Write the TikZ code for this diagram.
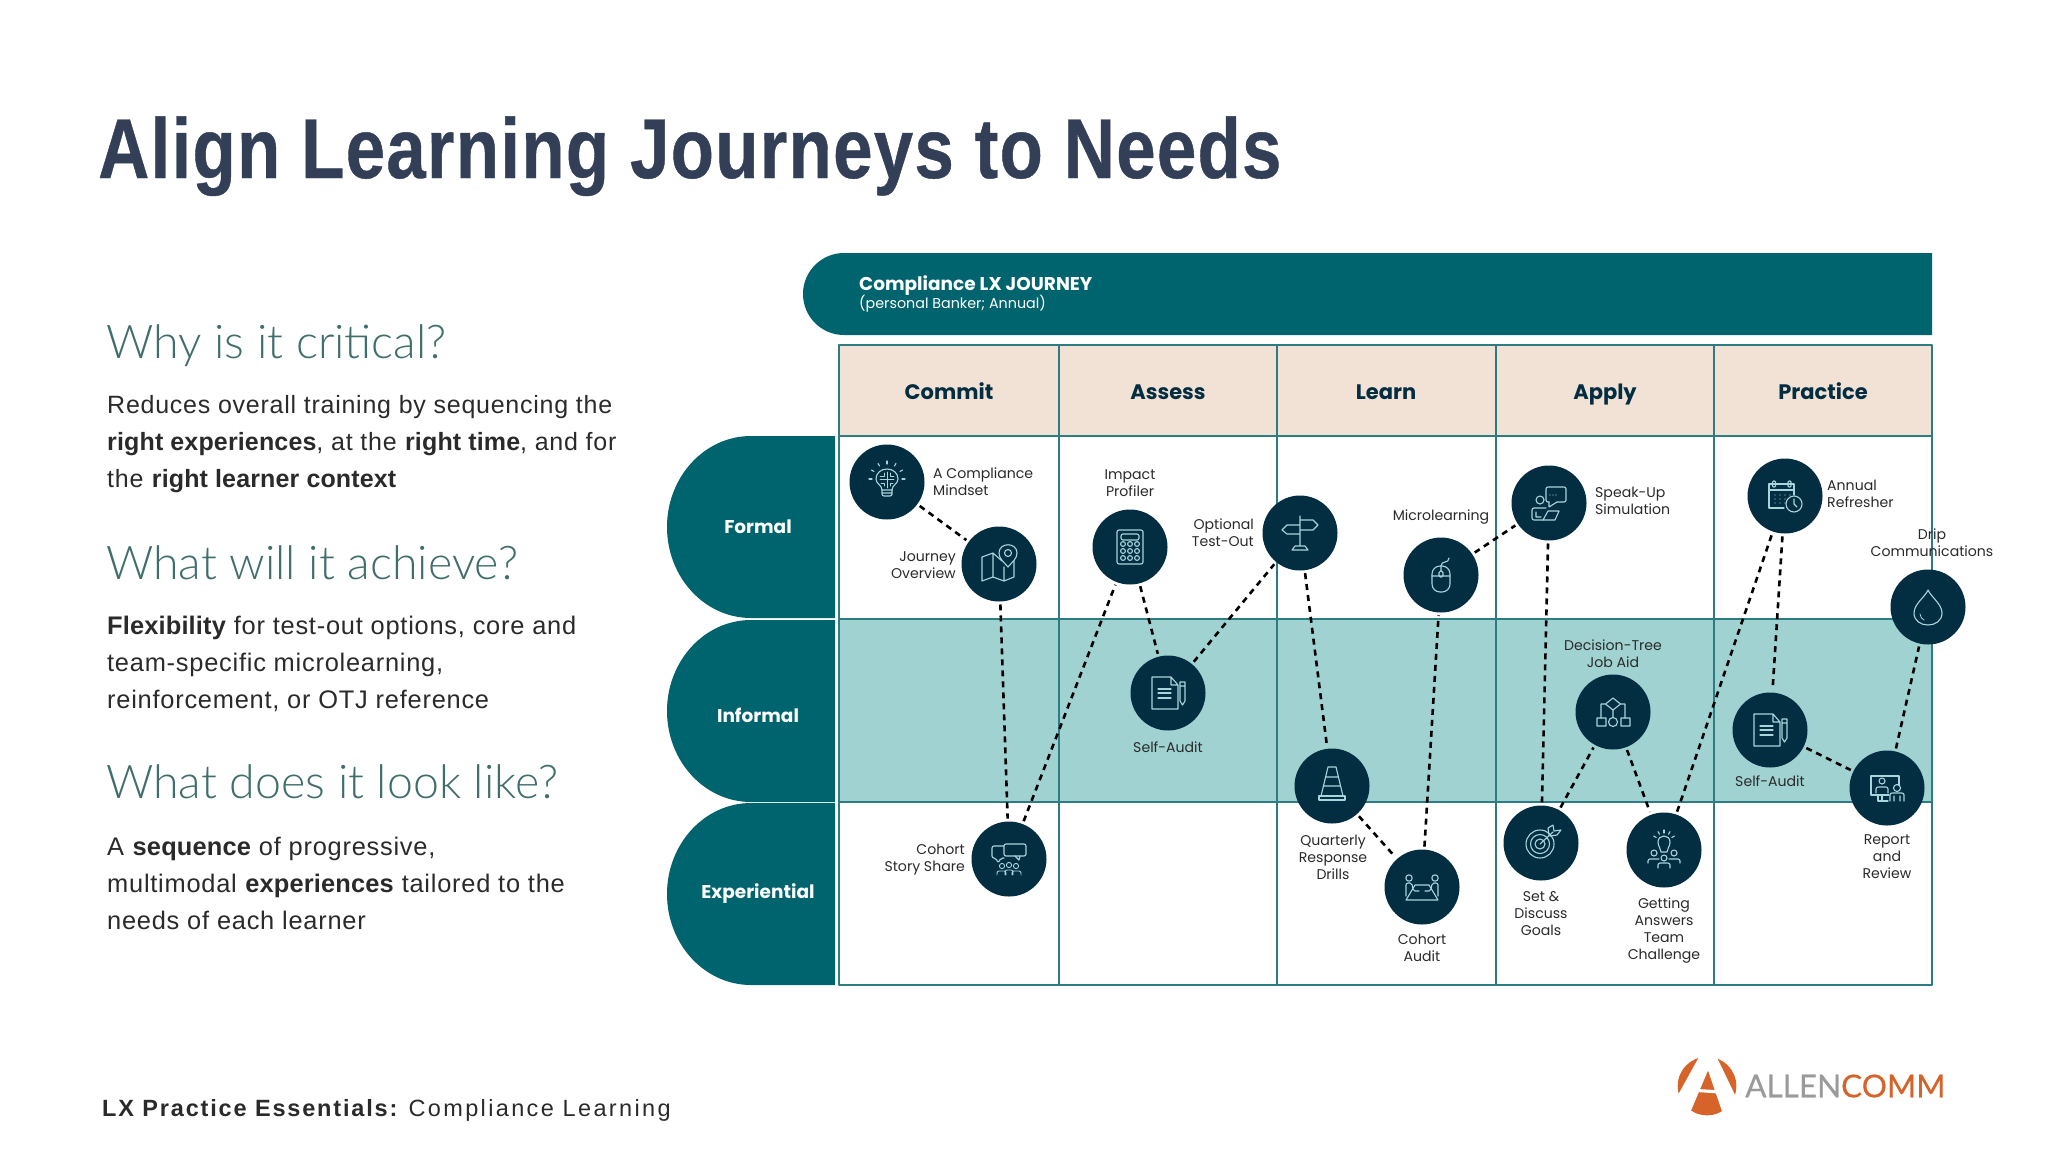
\documentclass[tikz,border=0pt]{standalone}
\usepackage{fontspec}
\usetikzlibrary{arrows.meta,calc}
\setmainfont{Liberation Sans}
\newfontfamily\titlefont[FakeStretch=0.833,LetterSpace=1.5,FakeBold=0.5]{Liberation Sans}
\newfontfamily\headfont{Lato Light}
\newfontfamily\bodyfont[LetterSpace=3,BoldFeatures={LetterSpace=0.6}]{Liberation Sans}
\newfontfamily\footfont[LetterSpace=10,BoldFeatures={LetterSpace=7.8}]{Liberation Sans}
\newfontfamily\labfont{Poppins}
\newfontfamily\logofont[FakeBold=0.4]{Lato}
\definecolor{tealc}{HTML}{00646E}
\definecolor{navyc}{HTML}{032E42}
\definecolor{sandc}{HTML}{F2E2D5}
\definecolor{mintc}{HTML}{A1D2D2}
\definecolor{gridc}{HTML}{2E7C83}
\definecolor{iconc}{HTML}{A8D5DC}
\definecolor{slatec}{HTML}{333F57}
\definecolor{headc}{HTML}{3F6E6B}
\definecolor{inkc}{HTML}{2A2A2A}
\definecolor{rustc}{HTML}{D5632A}
\definecolor{greyc}{HTML}{9A9A9A}
\tikzset{
  stop/.style={circle,fill=navyc,minimum size=75pt,inner sep=0pt,outer sep=3pt},
  lab/.style={font=\labfont\fontsize{14.1}{17}\selectfont,align=center,text=inkc,inner sep=0pt},
  labl/.style={lab,align=left,anchor=west},
  labr/.style={lab,align=right,anchor=east},
  colhead/.style={font=\labfont\bfseries\fontsize{21}{24}\selectfont,text=navyc,inner sep=0pt,text height=16pt,text depth=5pt},
  rowhead/.style={font=\labfont\bfseries\fontsize{18.5}{22}\selectfont,text=white,inner sep=0pt,text height=14pt,text depth=4pt},
  quest/.style={font=\headfont\fontsize{46.5}{50}\selectfont,text=headc,anchor=base west,inner sep=0pt},
  para/.style={font=\bodyfont\fontsize{25}{37}\selectfont,text=inkc,align=left,anchor=west,inner sep=0pt},
  parb/.style={para,font=\bodyfont\fontsize{25.4}{37}\selectfont},
  trail/.style={line width=2.6pt,dash pattern=on 6pt off 5pt,draw=black},
  ico/.style={draw=iconc,line width=1.1pt,line join=round,line cap=round},
  docicon/.pic={
    \draw[ico] (-16,-16) -- (3,-16) -- (10,-8) -- (10,16) -- (-16,16) -- cycle (3,-16) -- (3,-8) -- (10,-8);
    \foreach \y in {-4,0,5} {\draw[ico] (-10,\y) -- (3,\y);}
    \draw[ico] (12,-11) -- (17,-11) -- (17,8) -- (14.5,12) -- (12,8) -- cycle (12,-7) -- (17,-7);
  },
}
\begin{document}
\begin{tikzpicture}[x=1pt,y=-1pt,line join=round]
\useasboundingbox (0,0) rectangle (2048,1152);
% --- title and left column
\node[font=\titlefont\bfseries\fontsize{85}{90}\selectfont,text=slatec,anchor=base west,inner sep=0pt] (title) at (98,178) {Align Learning Journeys to Needs};
\node[quest] (q1) at (106,358) {Why is it critical?};
\node[para] (p1) at (107,444) {Reduces overall training by sequencing the\\\textbf{right experiences}, at the \textbf{right time}, and for\\the \textbf{right learner context}};
\node[quest] (q2) at (106,579) {What will it achieve?};
\node[parb] (p2) at (107,664) {\textbf{Flexibility} for test-out options, core and\\team-specific microlearning,\\reinforcement, or OTJ reference};
\node[quest] (q3) at (106,798) {What does it look like?};
\node[parb] (p3) at (107,883.5) {A \textbf{sequence} of progressive,\\multimodal \textbf{experiences} tailored to the\\needs of each learner};
\node[font=\footfont\fontsize{23.5}{26}\selectfont,text=inkc,anchor=base west,inner sep=0pt] (foot) at (102,1116) {\textbf{LX Practice Essentials:}\hspace{-2.5pt} Compliance Learning};
% --- banner
\fill[tealc] (1932,253) -- (844,253) arc[start angle=270,end angle=90,radius=41] -- (1932,335) -- cycle;
\node[font=\labfont\bfseries\fontsize{18.5}{22}\selectfont,text=white,anchor=west,inner sep=0pt] (bant) at (859,286) {Compliance LX JOURNEY};
\node[font=\labfont\fontsize{14.3}{16}\selectfont,text=white,anchor=west,inner sep=0pt] (bans) at (859,304) {(personal Banker; Annual)};
% --- grid
\fill[sandc] (839,345) rectangle (1932,436);
\fill[mintc] (839,619) rectangle (1932,802);
\foreach \x in {1059,1277,1496,1714} {\draw[gridc,line width=1.4pt] (\x,345) -- (\x,985);}
\draw[gridc,line width=1.4pt] (839,436) -- (1932,436) (839,619) -- (1932,619) (839,802) -- (1932,802);
\draw[gridc,line width=2.6pt] (839,345) rectangle (1932,985);
\foreach \x/\t in {949/Commit,1168/Assess,1386/Learn,1605/Apply,1823/Practice} {\node[colhead] (col\t) at (\x,393.5) {\t};}
% --- row pills
\foreach \a/\b in {436/618,620/802,803/985} {\fill[tealc] (835,\a) -- (751,\a) arc[start angle=270,end angle=90,x radius=84,y radius={(\b-\a)/2}] -- (835,\b) -- cycle;}
\node[rowhead] (rowF) at (758,528) {Formal};
\node[rowhead] (rowI) at (758,717) {Informal};
\node[rowhead] (rowE) at (758,893) {Experiential};
% --- stops
\node[stop] (brain) at (887,482) {};
\node[stop] (jmap) at (999,564) {};
\node[stop] (calc) at (1130,547) {};
\node[stop] (sign) at (1300,533) {};
\node[stop] (sfa) at (1168,693) {};
\node[stop] (story) at (1009,859) {};
\node[stop] (cone) at (1332,786) {};
\node[stop] (mouse) at (1441,575) {};
\node[stop] (speak) at (1549,503) {};
\node[stop] (cal) at (1785,496) {};
\node[stop] (drop) at (1928,607) {};
\node[stop] (tree) at (1613,712) {};
\node[stop] (sfb) at (1770,730) {};
\node[stop] (rev) at (1887,788) {};
\node[stop] (caud) at (1422,887) {};
\node[stop] (goal) at (1541,843) {};
\node[stop] (chal) at (1664,850) {};
\foreach \a/\b in {brain/jmap,jmap/story,story/calc,calc/sfa,sfa/sign,sign/cone,cone/caud,caud/mouse,mouse/speak,speak/goal,goal/tree,tree/chal,chal/cal,cal/sfb,sfb/rev,rev/drop} {\draw[trail] (\a) -- (\b);}
% --- stop labels
\node[labl] (l1) at (933,482) {A Compliance\\Mindset};
\node[labr] (l2) at (956,565) {Journey\\Overview};
\node[lab] (l3) at (1130,483) {Impact\\Profiler};
\node[labr] (l4) at (1254,533) {Optional\\Test-Out};
\node[lab] (l5) at (1168,747) {Self-Audit};
\node[labr] (l6) at (965,860) {Cohort\\Story Share};
\node[lab] (l7) at (1333,857) {Quarterly\\Response\\Drills};
\node[lab] (l8) at (1422,948) {Cohort\\Audit};
\node[lab] (l9) at (1441,517) {Microlearning};
\node[labl] (l10) at (1595,501) {Speak-Up\\Simulation};
\node[labl] (l11) at (1827,494) {Annual\\Refresher};
\node[lab] (l12) at (1932,543) {Drip\\Communications};
\node[lab] (l13) at (1613,654) {Decision-Tree\\Job Aid};
\node[lab] (l14) at (1770,781) {Self-Audit};
\node[lab] (l15) at (1887,857) {Report\\and\\Review};
\node[lab] (l16) at (1541,914) {Set \&\\Discuss\\Goals};
\node[lab] (l17) at (1664,931) {Getting\\Answers\\Team\\Challenge};
% --- icons
\begin{scope}[shift={(brain)}]
\draw[ico] (-5,8) .. controls (-5,3) and (-11,2) .. (-11,-3) .. controls (-11,-9) and (-6,-13) .. (0,-13) .. controls (6,-13) and (11,-9) .. (11,-3) .. controls (11,2) and (5,3) .. (5,8) -- cycle;
\draw[ico,rounded corners=2pt] (-5,8) -- (-5,14) -- (5,14) -- (5,8) (-5,11) -- (5,11);
\draw[ico,line width=.8pt] (0,-10) -- (0,6) (-7,-3) -- (7,-3) (-3,-9) -- (-3,-6) -- (-7,-6) (3,-9) -- (3,-6) -- (7,-6) (-3,4) -- (-3,1) -- (-6,1) (3,4) -- (3,1) -- (6,1);
\foreach \a in {-150,-120,-90,-60,-30,0,180} {\draw[ico] ($(0,-3)+(\a:15)$) -- ($(0,-3)+(\a:18)$);}
\end{scope}
\begin{scope}[shift={(jmap)}]
\draw[ico] (3,-3) -- (-6,-11) -- (-17,-7) -- (-17,17) -- (-6,13) -- (5,17) -- (15,13) -- (15,-3) (-6,-11) -- (-6,13) (5,3) -- (5,17);
\draw[ico,fill=navyc] (9,3) .. controls (5,-2) and (0,-5) .. (0,-11) .. controls (0,-22) and (18,-22) .. (18,-11) .. controls (18,-5) and (13,-2) .. (9,3) -- cycle;
\draw[ico] (9,-11) circle (3.5);
\end{scope}
\begin{scope}[shift={(calc)}]
\draw[ico,rounded corners=2pt] (-13,-17) rectangle (13,17) (-9,-13) rectangle (9,-7);
\foreach \x in {-7,0,7} {\foreach \y in {-3,4,11} {\draw[ico] (\x,\y) circle (2.4);}}
\end{scope}
\begin{scope}[shift={(sign)}]
\draw[ico] (0,-17) -- (0,13) (0,-13) -- (13,-13) -- (18,-8) -- (13,-3) -- (0,-3) (0,-8) -- (-13,-8) -- (-18,-3) -- (-13,1) -- (0,1) (-8,17) -- (8,17) -- (5,13) -- (-5,13) -- cycle;
\end{scope}
\pic at (sfa) {docicon};
\pic at (sfb) {docicon};
\begin{scope}[shift={(story)}]
\draw[ico,rounded corners=2pt] (-5,-13) -- (-17,-13) -- (-17,-1) -- (-13,-1) -- (-11,4) -- (-8,-1) -- (-5,-1);
\draw[ico,rounded corners=2pt,fill=navyc] (-5,-15) rectangle (17,-3);
\draw[ico] (6,-3) -- (10,1) -- (11,-3);
\foreach \x/\y in {-7/7,0/6,7/7} {\draw[ico,line width=.9pt] (\x,\y) circle (2.6);}
\draw[ico,line width=.9pt,rounded corners=2pt] (-12,16) -- (-12,12) -- (-3,12) -- (-3,16) (-4,16) -- (-4,11) -- (4,11) -- (4,16) (3,16) -- (3,12) -- (12,12) -- (12,16);
\end{scope}
\begin{scope}[shift={(cone)}]
\draw[ico] (-4,-19) -- (4,-19) -- (11,10) -- (-11,10) -- cycle (-6,-9) -- (6,-9) (-8.5,0) -- (8.5,0);
\draw[ico] (-13,10) rectangle (13,14);
\end{scope}
\begin{scope}[shift={(mouse)}]
\draw[ico,rounded corners=8pt] (-9,-9) rectangle (9,17);
\draw[ico] (-9,1) -- (9,1) (0,-9) -- (0,-4) (0,-9) .. controls (0,-15) and (8,-11) .. (8,-17);
\draw[ico,rounded corners=1.5pt] (-2,-4) rectangle (2,2);
\end{scope}
\begin{scope}[shift={(speak)}]
\draw[ico,rounded corners=2pt] (8,-1) -- (17,-1) -- (17,-16) -- (-3,-16) -- (-3,-1) -- (0,-1);
\draw[ico] (0,-1) -- (0,4) -- (8,-1);
\draw[ico] (-9,-3) circle (4);
\foreach \x in {1,4,7} {\fill[iconc] (\x,-8) circle (.6);}
\draw[ico,rounded corners=2pt] (-6,17) -- (-17,17) -- (-17,5) -- (-3,5);
\draw[ico] (-1,8) -- (10,8) -- (6,17) -- (-6,17) -- cycle (-13,9) -- (-13,14) -- (-8,14);
\end{scope}
\begin{scope}[shift={(cal)}]
\draw[ico] (-1,12) -- (-16,12) -- (-16,-12) -- (9,-12) -- (9,-1) (-16,-6) -- (9,-6);
\draw[ico,rounded corners=1pt] (-12.5,-15) rectangle (-9.5,-9) (3,-15) rectangle (6,-9);
\foreach \x in {-10,-5,0,5} {\foreach \y in {-1,3,7} {\fill[iconc] (\x,\y) circle (.6);}}
\draw[ico,fill=navyc] (9,8) circle (8);
\draw[ico] (9,3) -- (9,8) -- (12,11);
\end{scope}
\begin{scope}[shift={(drop)}]
\draw[ico] (0,-17) .. controls (3,-10) and (14,-3) .. (14,6) .. controls (14,22) and (-14,22) .. (-14,6) .. controls (-14,-3) and (-3,-10) .. (0,-17) -- cycle;
\draw[ico,line width=.8pt] (-8,7) .. controls (-8,10) and (-6,12) .. (-4,13);
\end{scope}
\begin{scope}[shift={(tree)}]
\draw[ico] (0,-14) -- (7.5,-8) -- (0,-2) -- (-7.5,-8) -- cycle (-7.5,-8) -- (-12,-8) -- (-12,6) (7.5,-8) -- (12,-8) -- (12,6) (0,-2) -- (0,5);
\draw[ico] (-16,6) rectangle (-7,14) (8,6) rectangle (17,14) (0,10) circle (4.5);
\end{scope}
\begin{scope}[shift={(rev)}]
\draw[ico] (2,7) -- (-16,7) -- (-16,-12) -- (12,-12) -- (12,-3) (-9,7) -- (-9,13) -- (1,13) (-5,7) -- (-5,13);
\draw[ico] (-5,-7) circle (3) (10,0) circle (3.5);
\draw[ico,rounded corners=2pt] (-11,5) -- (-11,-1) -- (1,-1) -- (1,5);
\draw[ico,rounded corners=2pt] (3,13) -- (3,5) -- (17,5) -- (17,13) (7,13) -- (7,8) (13,13) -- (13,8);
\end{scope}
\begin{scope}[shift={(caud)}]
\draw[ico] (-13,-9) circle (3.2) (13,-9) circle (3.2);
\draw[ico] (-7,-2) -- (7,-2) -- (16,13) -- (-16,13) -- cycle;
\draw[ico,rounded corners=2pt] (-16,9) -- (-16,-4) -- (-10,-4) -- (-9,4) -- (-3,4) (16,9) -- (16,-4) -- (10,-4) -- (9,4) -- (3,4);
\end{scope}
\begin{scope}[shift={(goal)}]
\foreach \r in {14,9.5,5} {\draw[ico] (-1,1) circle (\r);}
\draw[ico] (-1,1) -- (12,-11) (8,-8) -- (7,-15) -- (12,-18) -- (13,-12) -- (20,-13) -- (16,-8) -- (9,-7);
\end{scope}
\begin{scope}[shift={(chal)}]
\draw[ico] (-3,2) .. controls (-3,-2) and (-6,-3) .. (-6,-8) .. controls (-6,-16) and (6,-16) .. (6,-8) .. controls (6,-3) and (3,-2) .. (3,2) -- cycle;
\foreach \a in {-150,-120,-90,-60,-30} {\draw[ico] ($(0,-8)+(\a:9)$) -- ($(0,-8)+(\a:12)$);}
\draw[ico] (-10,3) circle (3) (0,8) circle (3) (10,3) circle (3);
\draw[ico,rounded corners=2pt] (-16,13) -- (-16,9) -- (-5,9) (16,13) -- (16,9) -- (5,9) (-6,18) -- (-6,13) -- (6,13) -- (6,18);
\end{scope}
% --- logo
\begin{scope}[shift={(1707,1086)},x=.333pt,y=-.333pt]
\fill[rustc] (0,0) circle (88);
\fill[white] (-17,-100) -- (23,-100) -- (100,60) -- (50,90) -- (3,-47) -- (-55,90) -- (-100,50) -- cycle;
\fill[white] (-30,9) -- (25,12) -- (27,22) -- (-30,18) -- cycle;
\end{scope}
\node[font=\logofont\fontsize{31.5}{34}\selectfont,anchor=west,inner sep=0pt] (logo) at (1745,1086) {\textcolor{greyc}{ALLEN}\textcolor{rustc}{COMM}};
\end{tikzpicture}
\end{document}
